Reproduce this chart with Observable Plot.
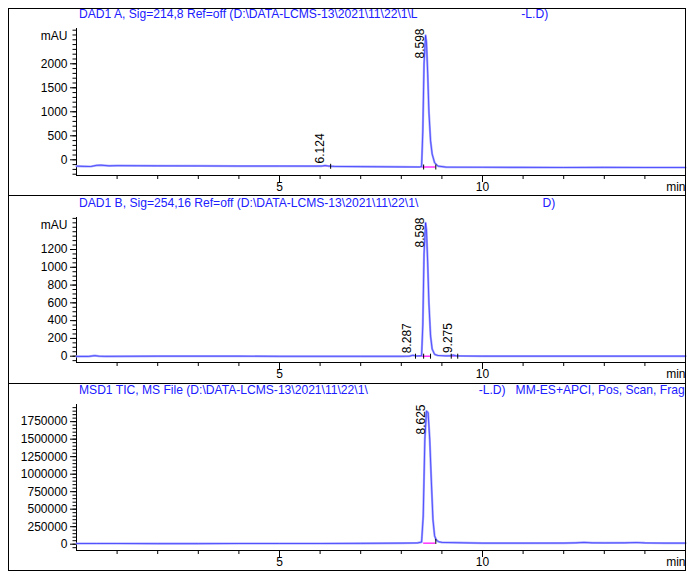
<!DOCTYPE html>
<html><head><meta charset="utf-8">
<script src="https://cdn.jsdelivr.net/npm/d3@7"></script>
<script src="https://cdn.jsdelivr.net/npm/@observablehq/plot@0.6"></script>
<style>
body{margin:0;background:#fff;font-family:"Liberation Sans",Arial,sans-serif;}
#frame{position:absolute;left:8px;top:8px;width:678px;height:563px;border:1px solid #000;box-sizing:border-box;pointer-events:none;z-index:2;}
.divider{position:absolute;left:8px;width:678px;height:1px;background:#000;z-index:2;}
.panel{position:absolute;left:9px;width:676px;}
.title{position:absolute;font-size:12.1px;line-height:12px;color:#2020ff;white-space:pre;z-index:3;}
</style></head><body>
<div id="p1" class="panel" style="top:9px"></div>
<div id="p2" class="panel" style="top:196px"></div>
<div id="p3" class="panel" style="top:384px"></div>
<div id="frame"></div>
<div class="divider" style="top:195px"></div>
<div class="divider" style="top:383px"></div>
<div id="t1" class="title" style="left:79px;top:8px"></div>
<div id="t2" class="title" style="left:79px;top:197px"></div>
<div id="t3" class="title" style="left:79px;top:384px"></div>
<script>
// ---------- titles ----------
const titles = [
  "DAD1 A, Sig=214,8 Ref=off (D:\\DATA-LCMS-13\\2021\\11\\22\\1\\L                               -L.D)",
  "DAD1 B, Sig=254,16 Ref=off (D:\\DATA-LCMS-13\\2021\\11\\22\\1\\                                     D)",
  "MSD1 TIC, MS File (D:\\DATA-LCMS-13\\2021\\11\\22\\1\\                                 -L.D)   MM-ES+APCI, Pos, Scan, Frag"
];

// ---------- DAD1 A (mAU) ----------
const timeA = [0, 0.2, 0.35, 0.5, 0.6, 0.8, 1.0, 2, 3, 4, 5, 5.9, 6.05, 6.124, 6.2, 6.35, 7, 8, 8.45, 8.5, 8.53, 8.56, 8.598, 8.62, 8.65, 8.68, 8.72, 8.76, 8.82, 8.9, 9.1, 10, 11, 12, 13, 14, 15];
const absA  = [-132, -138, -140, -115, -112, -125, -122, -125, -128, -130, -130, -132, -130, -118, -130, -138, -142, -148, -150, -140, 600, 2000, 2590, 2450, 1800, 1000, 400, 120, -60, -130, -152, -155, -158, -160, -158, -160, -160];
const tallPeaksA = [8.598];
const tallLabelsA = ["8.598"];
const smallPeaksA = [6.124];
const smallHeightsA = [-118];
const smallLabelsA = ["6.124"];
const segStartA = [6.03, 8.50];
const segEndA = [6.26, 8.85];
const segLevelA = [-130, -150];
const markA = [6.26, 8.55, 8.85];
const markLevelA = [-135, -150, -150];
const yTicksA = [0, 500, 1000, 1500, 2000];

// ---------- DAD1 B (mAU) ----------
const timeB = [0, 0.3, 0.45, 0.55, 0.7, 1, 2, 3, 4, 5, 6, 7, 8, 8.2, 8.287, 8.38, 8.5, 8.53, 8.56, 8.598, 8.62, 8.65, 8.68, 8.72, 8.76, 8.82, 8.9, 9.1, 9.2, 9.275, 9.35, 9.5, 10, 11, 12, 13, 14, 15];
const absB  = [-3, -3, 6, 0, -2, -1, 0, 0, 0, -1, -1, -1, -1, 0, 10, 2, 5, 350, 1150, 1500, 1420, 1050, 600, 230, 80, 20, 8, 3, 4, 12, 4, 2, 0, 0, 0, 0, 0, 0];
const tallPeaksB = [8.598];
const tallLabelsB = ["8.598"];
const smallPeaksB = [8.287, 9.275];
const smallHeightsB = [10, 12];
const smallLabelsB = ["8.287", "9.275"];
const segStartB = [8.35, 8.55, 9.23];
const segEndB = [8.55, 8.72, 9.39];
const segLevelB = [0, 0, 0];
const markB = [8.35, 8.55, 8.72, 9.23, 9.39];
const markLevelB = [0, 0, 0, 0, 0];
const yTicksB = [0, 200, 400, 600, 800, 1000, 1200];

// ---------- MSD1 TIC (counts) ----------
const timeC = [0, 0.5, 1, 2, 3, 4, 5, 6, 7, 8, 8.4, 8.5, 8.54, 8.58, 8.62, 8.66, 8.7, 8.74, 8.78, 8.82, 8.86, 8.92, 9, 10, 11, 12, 12.3, 12.5, 12.7, 13, 13.5, 13.8, 14, 14.5, 15];
const ticC  = [10000, 10000, 10000, 8000, 8000, 10000, 10000, 10000, 12000, 15000, 18000, 30000, 400000, 1500000, 1900000, 1880000, 1500000, 900000, 350000, 120000, 60000, 35000, 25000, 15000, 15000, 16000, 20000, 25000, 20000, 18000, 20000, 24000, 18000, 15000, 15000];
const tallPeaksC = [8.625];
const tallLabelsC = ["8.625"];
const smallPeaksC = [];
const smallHeightsC = [];
const smallLabelsC = [];
const segStartC = [8.55];
const segEndC = [8.85];
const segLevelC = [15000];
const markC = [8.85];
const markLevelC = [40000];
const yTicksC = [0, 250000, 500000, 750000, 1000000, 1250000, 1500000, 1750000];

const xMajor = [5, 10];
const xMinor = [1, 2, 3, 4, 6, 7, 8, 9, 11, 12, 13, 14];

// ---------- builder ----------
function panel(cfg) {
  const trace = cfg.time.map((t, i) => ({t, v: cfg.vals[i]}));
  const tall = cfg.tallPeaks.map((t, i) => ({t, label: cfg.tallLabels[i]}));
  const small = cfg.smallPeaks.map((t, i) => ({t, v: cfg.smallHeights[i], label: cfg.smallLabels[i]}));
  const segs = cfg.segStart.map((t1, i) => ({t1, t2: cfg.segEnd[i], v: cfg.segLevel[i]}));
  const marks = cfg.mark.map((t, i) => ({t, v: cfg.markLevel[i]}));
  const [y0] = cfg.yDomain;
  return Plot.plot({
    width: 676, height: cfg.height,
    marginLeft: 67, marginRight: 0, marginTop: cfg.mt, marginBottom: cfg.mb,
    style: {fontFamily: "Liberation Sans, Arial, sans-serif", fontSize: "12px", background: "white", overflow: "visible"},
    x: {domain: [0, 15]},
    y: {domain: cfg.yDomain},
    marks: [
      Plot.axisY(cfg.yMinor, {tickSize: 3.5, tickFormat: () => "", label: null}),
      Plot.axisY(cfg.yTicks, {tickSize: 6, tickPadding: 3, tickFormat: "d", label: null, fontSize: 12}),
      Plot.axisX(xMinor, {tickSize: 4, tickFormat: () => "", label: null}),
      Plot.axisX(xMajor, {tickSize: 7, tickPadding: 0, tickFormat: "d", label: null, fontSize: 12}),
      Plot.ruleX([0]),
      Plot.ruleY([y0]),
      Plot.ruleY(segs, {y: "v", x1: "t1", x2: "t2", stroke: "#ff00ff", strokeWidth: 1.2}),
      Plot.line(trace, {x: "t", y: "v", stroke: "#a4a4ff", strokeWidth: 2.2}),
      Plot.line(trace, {x: "t", y: "v", stroke: "#1010ff", strokeWidth: 0.7, strokeOpacity: 0.8}),
      Plot.ruleX(marks, {x: "t", y1: "v", y2: "v", insetTop: -2, insetBottom: -3, stroke: "black", strokeWidth: 1}),
      Plot.text(tall, {x: "t", text: "label", frameAnchor: "top", rotate: -90, textAnchor: "end", lineAnchor: "bottom", dx: -2, fontSize: 12, fill: "black"}),
      Plot.text(small, {x: "t", y: "v", text: "label", rotate: -90, textAnchor: "start", lineAnchor: "bottom", dx: -1.5, dy: -2, fontSize: 12, fill: "black"}),
      Plot.text(["mAU"].filter(() => cfg.unit), {frameAnchor: "top-left", text: d => d, dx: -9, dy: 8, textAnchor: "end", lineAnchor: "middle", fontSize: 12}),
      Plot.text(["min"], {frameAnchor: "bottom-right", text: d => d, dy: 7, textAnchor: "end", lineAnchor: "top", fontSize: 12})
    ]
  });
}

document.getElementById("t1").textContent = titles[0];
document.getElementById("t2").textContent = titles[1];
document.getElementById("t3").textContent = titles[2];

document.getElementById("p1").append(panel({
  time: timeA, vals: absA, tallPeaks: tallPeaksA, tallLabels: tallLabelsA,
  smallPeaks: smallPeaksA, smallHeights: smallHeightsA, smallLabels: smallLabelsA,
  segStart: segStartA, segEnd: segEndA, segLevel: segLevelA, mark: markA, markLevel: markLevelA,
  yTicks: yTicksA, yMinor: d3.range(-300, 2701, 100), yDomain: [-327, 2735],
  height: 186, mt: 19, mb: 20, unit: true
}));
document.getElementById("p2").append(panel({
  time: timeB, vals: absB, tallPeaks: tallPeaksB, tallLabels: tallLabelsB,
  smallPeaks: smallPeaksB, smallHeights: smallHeightsB, smallLabels: smallLabelsB,
  segStart: segStartB, segEnd: segEndB, segLevel: segLevelB, mark: markB, markLevel: markLevelB,
  yTicks: yTicksB, yMinor: d3.range(-50, 1551, 50), yDomain: [-71, 1560],
  height: 187, mt: 21, mb: 21, unit: true
}));
document.getElementById("p3").append(panel({
  time: timeC, vals: ticC, tallPeaks: tallPeaksC, tallLabels: tallLabelsC,
  smallPeaks: smallPeaksC, smallHeights: smallHeightsC, smallLabels: smallLabelsC,
  segStart: segStartC, segEnd: segEndC, segLevel: segLevelC, mark: markC, markLevel: markLevelC,
  yTicks: yTicksC, yMinor: d3.range(-50000, 1950001, 50000), yDomain: [-90000, 1995000],
  height: 186, mt: 20, mb: 20, unit: false
}));
</script>
</body></html>
